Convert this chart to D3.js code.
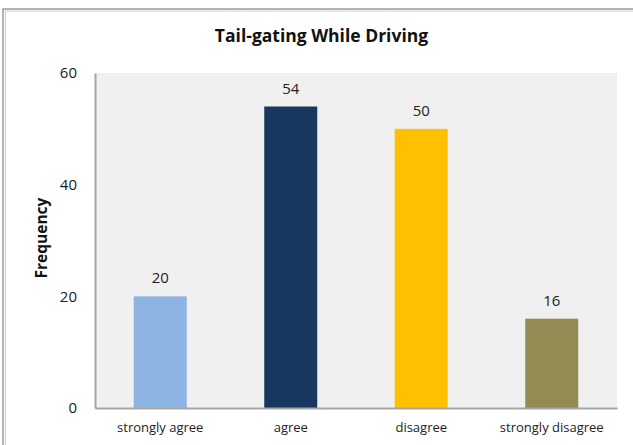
<!DOCTYPE html>
<html><head><meta charset="utf-8">
<script src="https://cdn.jsdelivr.net/npm/d3@7"></script>
<style>body{margin:0;background:#fff}svg{display:block}</style>
</head><body>
<svg id="c" width="633" height="445"></svg>
<script>
const categories = ["strongly agree", "agree", "disagree", "strongly disagree"];
const values = [20, 54, 50, 16];
const colors = ["#8EB4E3", "#17375E", "#FFC000", "#948A54"];
const yTicks = [0, 20, 40, 60];
const title = "Tail-gating While Driving";
const yTitle = "Frequency";

const svg = d3.select("#c");
const font = "'Open Sans', Lato, sans-serif";
const m = {l: 95, r: 617, t: 73, b: 408};

// outer frame
svg.append("path").attr("d", "M3,445 V9 H633").attr("fill", "none").attr("stroke", "#9a9a9a").attr("stroke-width", 1.5);
svg.append("path").attr("d", "M5.5,445 V11 H633").attr("fill", "none").attr("stroke", "#cfcfcf").attr("stroke-width", 1.2);

const x = d3.scaleBand().domain(categories).range([m.l, m.r]).paddingInner(0.594).paddingOuter(0.297);
const y = d3.scaleLinear().domain([0, 60]).range([m.b, m.t]);

svg.append("rect").attr("x", m.l).attr("y", m.t).attr("width", m.r - m.l).attr("height", m.b - m.t).attr("fill", "#F0F0F0");

svg.selectAll("rect.bar").data(values).join("rect").attr("class", "bar")
  .attr("x", (d, i) => x(categories[i])).attr("width", x.bandwidth())
  .attr("y", d => y(d)).attr("height", d => y(0) - y(d))
  .attr("fill", (d, i) => colors[i]);

// axes
const yAxis = d3.axisLeft(y).tickValues(yTicks).tickSize(0).tickPadding(18);
const gy = svg.append("g").attr("transform", `translate(${m.l},0)`).call(yAxis);
gy.select(".domain").attr("stroke", "#a6a6a6").attr("stroke-width", 2);
gy.selectAll("text").attr("font-family", font).attr("font-size", 15).attr("fill", "#222");

const xAxis = d3.axisBottom(x).tickSize(0).tickPadding(15);
const gx = svg.append("g").attr("transform", `translate(0,${m.b})`).call(xAxis);
gx.select(".domain").attr("stroke", "#a6a6a6").attr("stroke-width", 2);
gx.selectAll("text").attr("font-family", font).attr("font-size", 13).attr("fill", "#222");

// data labels
svg.selectAll("text.lab").data(values).join("text").attr("class", "lab")
  .attr("x", (d, i) => x(categories[i]) + x.bandwidth() / 2)
  .attr("y", d => y(d) - 13)
  .attr("text-anchor", "middle").attr("font-family", font).attr("font-size", 15).attr("fill", "#222")
  .text(d => d);

svg.append("text").attr("x", 321.5).attr("y", 42).attr("text-anchor", "middle")
  .attr("font-family", font).attr("font-weight", "bold").attr("font-size", 17.5).attr("fill", "#111")
  .text(title);

svg.append("text").attr("transform", "translate(47,238) rotate(-90)").attr("text-anchor", "middle")
  .attr("font-family", font).attr("font-weight", "bold").attr("font-size", 15.5).attr("fill", "#111")
  .text(yTitle);
</script>
</body></html>
